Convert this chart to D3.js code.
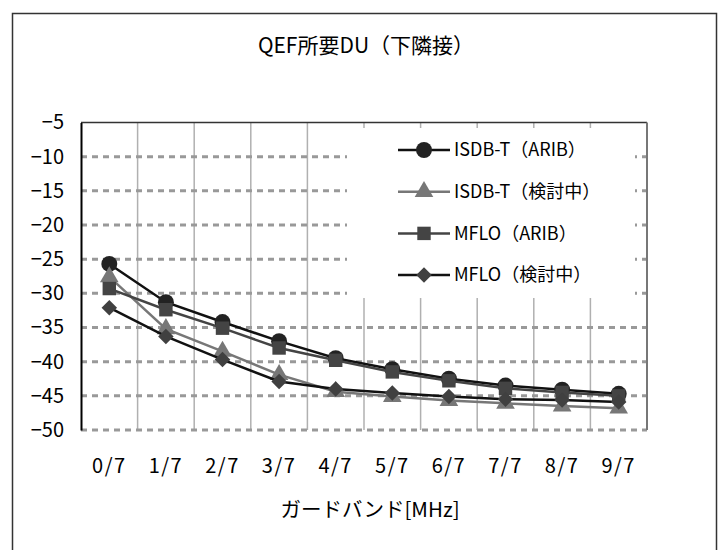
<!DOCTYPE html>
<html><head><meta charset="utf-8">
<script src="https://cdn.jsdelivr.net/npm/d3@7"></script>
<style>
html,body{margin:0;padding:0;background:#fff;}
svg{display:block;font-family:"Noto Sans CJK JP","Noto Sans",sans-serif;}
</style></head>
<body>
<script>
const categories = ["0/7","1/7","2/7","3/7","4/7","5/7","6/7","7/7","8/7","9/7"];
const seriesNames = ["ISDB-T（ARIB）","ISDB-T（検討中）","MFLO（ARIB）","MFLO（検討中）"];
const isdbArib   = [-25.7,-31.3,-34.2,-37.0,-39.5,-41.1,-42.5,-43.5,-44.1,-44.7];
const isdbKentou = [-27.6,-35.2,-38.5,-41.9,-44.4,-45.1,-45.7,-46.1,-46.5,-46.8];
const mfloArib   = [-29.3,-32.4,-35.1,-38.0,-39.8,-41.5,-42.8,-43.9,-44.5,-45.0];
const mfloKentou = [-32.1,-36.3,-39.7,-42.9,-44.0,-44.6,-45.1,-45.5,-45.6,-45.9];
const yTicks = [-5,-10,-15,-20,-25,-30,-35,-40,-45,-50];
const titleText = "QEF所要DU（下隣接）";
const xTitle = "ガードバンド[MHz]";

const series = [
  {name: seriesNames[0], values: isdbArib,   line:"#111", fill:"#222", shape:"circle"},
  {name: seriesNames[1], values: isdbKentou, line:"#777", fill:"#777", shape:"triangle"},
  {name: seriesNames[2], values: mfloArib,   line:"#444", fill:"#444", shape:"square"},
  {name: seriesNames[3], values: mfloKentou, line:"#111", fill:"#404040", shape:"diamond"}
];

const W = 719, H = 550;
const svg = d3.select("body").append("svg").attr("width", W).attr("height", H);

// outer frame
svg.append("rect").attr("x", 12.5).attr("y", 13.5).attr("width", 704).attr("height", 560)
  .attr("fill", "#fff").attr("stroke", "#333").attr("stroke-width", 1.5);

const L = 81, R = 647, T = 122.5, B = 430;
const x = d3.scaleBand().domain(categories).range([L, R]).paddingInner(0).paddingOuter(0);
const y = d3.scaleLinear().domain([-50, -5]).range([B, T]);

// vertical gridlines (band boundaries)
const g = svg.append("g");
g.selectAll("line.vg").data(categories.slice(1)).enter().append("line")
  .attr("x1", d => x(d)).attr("x2", d => x(d)).attr("y1", T).attr("y2", B)
  .attr("stroke", "#b0b0b0").attr("stroke-width", 1.5);

// horizontal dashed gridlines
g.selectAll("line.hg").data(yTicks.filter(v => v !== -5)).enter().append("line")
  .attr("x1", L).attr("x2", R).attr("y1", d => y(d)).attr("y2", d => y(d))
  .attr("stroke", "#999").attr("stroke-width", 3).attr("stroke-dasharray", "6,5");

// plot border: top and right
svg.append("line").attr("x1", L).attr("x2", R).attr("y1", T).attr("y2", T)
  .attr("stroke", "#333").attr("stroke-width", 1.5);
svg.append("line").attr("x1", R).attr("x2", R).attr("y1", T).attr("y2", B)
  .attr("stroke", "#777").attr("stroke-width", 2);

// y axis
const yAxis = d3.axisLeft(y).tickValues(yTicks).tickSize(0).tickPadding(0)
  .tickFormat(d => d3.format("")(d).replace("-", "−"));
const ya = svg.append("g").attr("transform", `translate(${L},0)`).call(yAxis);
ya.select(".domain").attr("stroke", "#000").attr("stroke-width", 2);
ya.selectAll("text").attr("x", -17).attr("font-size", 20).attr("fill", "#000")
  .attr("font-family", "'Noto Sans CJK JP'");

// x axis labels
const xAxis = d3.axisBottom(x).tickSize(0).tickPadding(0);
const xa = svg.append("g").attr("transform", `translate(0,${B})`).call(xAxis);
xa.select(".domain").remove();
xa.selectAll("text").attr("y", 29).attr("dy", "0.71em").attr("font-size", 20).attr("fill", "#000")
  .attr("letter-spacing", "1.5px").attr("font-family", "'Noto Sans CJK JP'");

// legend background (covers grid)
const legend = svg.append("g");
legend.append("rect").attr("x", 347).attr("y", 128).attr("width", 288).attr("height", 170).attr("fill", "#fff");

// symbol helper
function symPath(shape, size) {
  const t = {circle: d3.symbolCircle, triangle: d3.symbolTriangle, square: d3.symbolSquare, diamond: d3.symbolSquare}[shape];
  return d3.symbol().type(t).size(size)();
}
const sizes = {circle: 200, triangle: 150, square: 180, diamond: 120};

// series lines and markers
const lineGen = d3.line().x((d, i) => x(categories[i]) + x.bandwidth() / 2).y(d => y(d));
series.forEach(s => {
  const sg = svg.append("g");
  sg.append("path").attr("d", lineGen(s.values)).attr("fill", "none")
    .attr("stroke", s.line).attr("stroke-width", 2.5);
  sg.selectAll("path.m").data(s.values).enter().append("path")
    .attr("d", symPath(s.shape, sizes[s.shape]))
    .attr("transform", (d, i) => `translate(${x(categories[i]) + x.bandwidth() / 2},${y(d)})` + (s.shape === "diamond" ? " rotate(45)" : ""))
    .attr("fill", s.fill);
});

// legend items
series.forEach((s, i) => {
  const ly = 150 + i * 41.7;
  const it = legend.append("g").attr("transform", `translate(0,${ly})`);
  it.append("line").attr("x1", 398).attr("x2", 450).attr("y1", 0).attr("y2", 0)
    .attr("stroke", s.line).attr("stroke-width", 2.5);
  it.append("path").attr("d", symPath(s.shape, sizes[s.shape]))
    .attr("transform", `translate(424,0)` + (s.shape === "diamond" ? " rotate(45)" : ""))
    .attr("fill", s.fill);
  it.append("text").attr("x", 454).attr("y", 0).attr("dy", "0.35em")
    .attr("font-size", 18).attr("fill", "#000").text(s.name);
});

// title
svg.append("text").attr("x", (L + R) / 2 + 2).attr("y", 46).attr("dy", "0.35em")
  .attr("text-anchor", "middle").attr("font-size", 21).attr("fill", "#000").text(titleText);

// x axis title
svg.append("text").attr("x", (L + R) / 2 + 6).attr("y", 510).attr("dy", "0.35em")
  .attr("text-anchor", "middle").attr("font-size", 20.5).attr("fill", "#000").text(xTitle);
</script>
</body></html>
